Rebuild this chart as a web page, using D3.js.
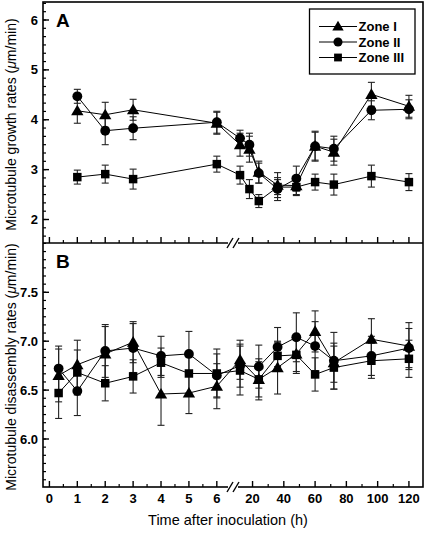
<!DOCTYPE html>
<html><head><meta charset="utf-8">
<script src="https://cdn.jsdelivr.net/npm/d3@7"></script>
<style>body{margin:0;background:#fff}svg{display:block}text{font-family:"Liberation Sans",Arial,sans-serif}</style>
</head><body>
<script>
// ---- data ----
const seriesNames = ["Zone I", "Zone II", "Zone III"];
const timesA = [1, 2, 3, 6, 12, 18, 24, 36, 48, 60, 72, 96, 120];
const growthZ1 = [4.18, 4.10, 4.20, 3.93, 3.50, 3.41, 2.95, 2.69, 2.68, 3.47, 3.35, 4.51, 4.27];
const growthZ1Err = [0.25, 0.25, 0.21, 0.22, 0.23, 0.26, 0.22, 0.25, 0.20, 0.30, 0.26, 0.24, 0.22];
const growthZ2 = [4.47, 3.78, 3.83, 3.95, 3.63, 3.50, 2.93, 2.61, 2.82, 3.47, 3.42, 4.19, 4.21];
const growthZ2Err = [0.14, 0.28, 0.23, 0.22, 0.16, 0.23, 0.20, 0.23, 0.25, 0.28, 0.25, 0.19, 0.19];
const growthZ3 = [2.85, 2.91, 2.81, 3.11, 2.89, 2.61, 2.37, 2.65, 2.65, 2.75, 2.70, 2.87, 2.75];
const growthZ3Err = [0.14, 0.18, 0.20, 0.16, 0.18, 0.19, 0.13, 0.15, 0.15, 0.16, 0.21, 0.22, 0.17];

const timesB = [0.33, 1, 2, 3, 4, 5, 6, 12, 24, 36, 48, 60, 72, 96, 120];
const disZ1 = [6.65, 6.76, 6.87, 6.99, 6.46, 6.47, 6.54, 6.81, 6.61, 6.73, 6.87, 7.10, 6.78, 7.02, 6.95];
const disZ1Err = [0.27, 0.25, 0.28, 0.21, 0.32, 0.21, 0.23, 0.20, 0.18, 0.27, 0.20, 0.21, 0.20, 0.21, 0.24];
const disZ2 = [6.72, 6.49, 6.90, 6.93, 6.85, 6.87, 6.65, 6.75, 6.74, 6.94, 7.04, 6.95, 6.80, 6.85, 6.93];
const disZ2Err = [0.23, 0.25, 0.27, 0.25, 0.20, 0.23, 0.22, 0.22, 0.22, 0.20, 0.25, 0.25, 0.29, 0.20, 0.20];
const disZ3 = [6.47, 6.68, 6.57, 6.64, 6.78, 6.67, 6.67, 6.70, 6.61, 6.85, 6.86, 6.66, 6.73, 6.80, 6.82];
const disZ3Err = [0.26, 0.23, 0.18, 0.17, 0.15, 0.20, 0.25, 0.25, 0.21, 0.14, 0.17, 0.17, 0.22, 0.18, 0.19];

const xTicksLow = [0, 1, 2, 3, 4, 5, 6];
const xTicksHigh = [20, 40, 60, 80, 100, 120];
const xMinorLow = [0.5, 1.5, 2.5, 3.5, 4.5, 5.5];
const xMinorHigh = [30, 50, 70, 90, 110];
const yTicksA = [2, 3, 4, 5, 6];
const yTicksB = [6.0, 6.5, 7.0, 7.5];

// ---- layout ----
const W = 428, H = 533;
const L = 43, R = 423, T = 2, MID = 243, B = 487, BRK = 233;
const svg = d3.select("body").append("svg").attr("width", W).attr("height", H);

const xLow = d3.scaleLinear().domain([-0.23, 6.58]).range([L, BRK]);
const xHigh = d3.scaleLinear().domain([7.5, 129]).range([BRK, R]);
const x = t => t <= 6.6 ? xLow(t) : xHigh(t);

const yA = d3.scaleLinear().domain([2, 6]).range([219.5, 20]);
yA.domain([yA.invert(MID), yA.invert(T)]).range([MID, T]);
const yB = d3.scaleLinear().domain([6.0, 7.5]).range([439, 292.3]);
yB.domain([yB.invert(B), yB.invert(MID)]).range([B, MID]);

const symbols = [d3.symbolTriangle, d3.symbolCircle, d3.symbolSquare];
const symSizes = [66, 76, 72];

function drawPanel(y, times, vals, errs, yTicks, fmt, minorStep, label, ytitle) {
  const g = svg.append("g");
  const [y0, y1] = y.range();
  const dom = y.domain();
  const minors = [];
  for (let v = Math.ceil(dom[0] / minorStep) * minorStep; v <= dom[1]; v += minorStep) minors.push(v);
  g.selectAll(".ymin").data(minors).join("line")
    .attr("x1", L).attr("x2", L + 3).attr("y1", d => y(d)).attr("y2", d => y(d))
    .attr("stroke", "#000").attr("stroke-width", 1.2);
  g.selectAll(".ymaj").data(yTicks).join("line")
    .attr("x1", L).attr("x2", L + 6).attr("y1", d => y(d)).attr("y2", d => y(d))
    .attr("stroke", "#000").attr("stroke-width", 1.4);
  g.selectAll(".ylab").data(yTicks).join("text")
    .attr("x", 38).attr("y", d => y(d) + 4.5).attr("text-anchor", "end")
    .attr("font-size", 13).attr("font-weight", "bold").text(fmt);
  const xb = y0;
  const majT = xTicksLow.concat(xTicksHigh), minT = xMinorLow.concat(xMinorHigh);
  g.selectAll(".xmaj").data(majT).join("line")
    .attr("x1", d => x(d)).attr("x2", d => x(d)).attr("y1", xb).attr("y2", xb - 6)
    .attr("stroke", "#000").attr("stroke-width", 1.4);
  g.selectAll(".xmin").data(minT).join("line")
    .attr("x1", d => x(d)).attr("x2", d => x(d)).attr("y1", xb).attr("y2", xb - 3)
    .attr("stroke", "#000").attr("stroke-width", 1.2);
  g.append("text").attr("x", 56).attr("y", y1 + 25).attr("font-size", 19)
    .attr("font-weight", "bold").text(label);
  const cy = (y0 + y1) / 2 + 2;
  const tt = g.append("text").attr("transform", `translate(16,${cy}) rotate(-90)`)
    .attr("text-anchor", "middle").attr("font-size", 14);
  tt.append("tspan").text(ytitle[0]);
  tt.append("tspan").attr("font-style", "italic").text("μ");
  tt.append("tspan").text(ytitle[1]);

  vals.forEach((sv, si) => {
    const pts = times.map((t, i) => ({ t, v: sv[i], e: errs[si][i] }));
    g.append("path").datum(pts)
      .attr("d", d3.line().x(d => x(d.t)).y(d => y(d.v)))
      .attr("fill", "none").attr("stroke", "#000").attr("stroke-width", 1);
    const eb = g.append("g").attr("stroke", "#222").attr("stroke-width", 1.1);
    eb.selectAll("line.s").data(pts).join("line")
      .attr("x1", d => x(d.t)).attr("x2", d => x(d.t))
      .attr("y1", d => y(d.v - d.e)).attr("y2", d => y(d.v + d.e));
    eb.selectAll("line.t").data(pts).join("line")
      .attr("x1", d => x(d.t) - 3.5).attr("x2", d => x(d.t) + 3.5)
      .attr("y1", d => y(d.v + d.e)).attr("y2", d => y(d.v + d.e));
    eb.selectAll("line.b").data(pts).join("line")
      .attr("x1", d => x(d.t) - 3.5).attr("x2", d => x(d.t) + 3.5)
      .attr("y1", d => y(d.v - d.e)).attr("y2", d => y(d.v - d.e));
  });
  vals.forEach((sv, si) => {
    g.selectAll(null).data(times.map((t, i) => ({ t, v: sv[i] }))).join("path")
      .attr("transform", d => `translate(${x(d.t)},${y(d.v) + (si === 0 ? 1 : 0)})`)
      .attr("d", d3.symbol().type(symbols[si]).size(symSizes[si]))
      .attr("fill", "#000");
  });
}

drawPanel(yA, timesA, [growthZ1, growthZ2, growthZ3], [growthZ1Err, growthZ2Err, growthZ3Err],
  yTicksA, d => d3.format("d")(d), 1 / 6, "A", ["Microtubule growth rates (", "m/min)"]);
drawPanel(yB, timesB, [disZ1, disZ2, disZ3], [disZ1Err, disZ2Err, disZ3Err],
  yTicksB, d => d3.format(".1f")(d), 0.5 / 6, "B", ["Microtubule disassembly rates (", "m/min)"]);

svg.append("rect").attr("x", L).attr("y", T).attr("width", R - L).attr("height", B - T)
  .attr("fill", "none").attr("stroke", "#000").attr("stroke-width", 1.6);
svg.append("line").attr("x1", L).attr("x2", R).attr("y1", MID).attr("y2", MID)
  .attr("stroke", "#000").attr("stroke-width", 1.6);

[MID, B].forEach(yy => {
  svg.append("rect").attr("x", BRK - 5).attr("y", yy - 2).attr("width", 10).attr("height", 4).attr("fill", "#fff");
  [-3, 3].forEach(dx => {
    svg.append("line").attr("x1", BRK + dx - 3).attr("y1", yy + 5).attr("x2", BRK + dx + 3).attr("y2", yy - 5)
      .attr("stroke", "#000").attr("stroke-width", 1.4);
  });
});

const xl = xTicksLow.concat(xTicksHigh);
svg.selectAll(".xl").data(xl).join("text")
  .attr("x", d => x(d)).attr("y", 503).attr("text-anchor", "middle")
  .attr("font-size", 13).attr("font-weight", "bold").text(d => d);
svg.append("text").attr("x", 228).attr("y", 525).attr("text-anchor", "middle")
  .attr("font-size", 14.5).text("Time after inoculation (h)");

const lg = svg.append("g");
lg.append("rect").attr("x", 309.5).attr("y", 9).attr("width", 105.5).attr("height", 65)
  .attr("fill", "#fff").attr("stroke", "#000").attr("stroke-width", 1.3);
seriesNames.forEach((n, i) => {
  const yy = 26.5 + i * 15.5;
  lg.append("line").attr("x1", 319).attr("x2", 357).attr("y1", yy).attr("y2", yy).attr("stroke", "#000");
  lg.append("path").attr("transform", `translate(338,${yy + (i === 0 ? 0.8 : 0)})`)
    .attr("d", d3.symbol().type(symbols[i]).size(symSizes[i] * 0.85)).attr("fill", "#000");
  lg.append("text").attr("x", 358.5).attr("y", yy + 4.5).attr("font-size", 13)
    .attr("font-weight", "bold").text(n);
});
</script>
</body></html>
